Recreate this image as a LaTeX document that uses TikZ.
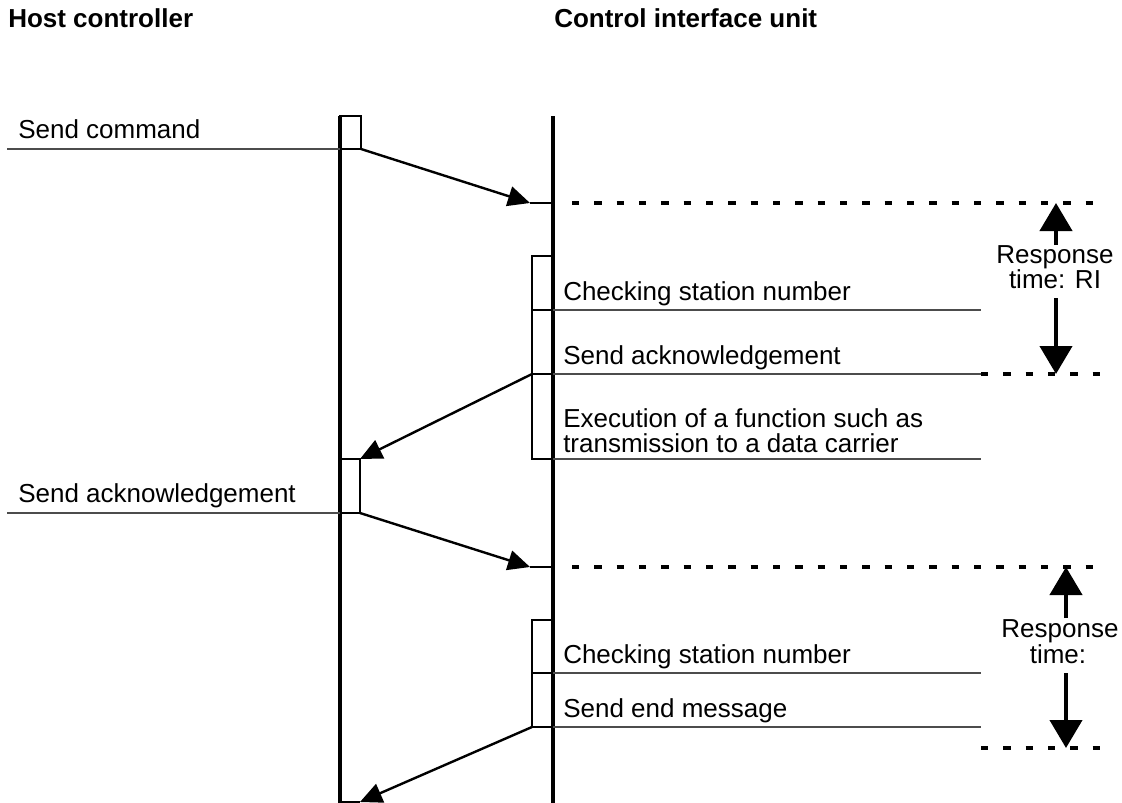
\documentclass[tikz,border=0pt]{standalone}
\usepackage{fontspec}
\setmainfont{Liberation Sans}
\usetikzlibrary{arrows.meta}
\begin{document}
\begin{tikzpicture}[x=0.75pt,y=-0.75pt,
  life/.style={line width=3pt},
  boxline/.style={line width=1.8pt},
  msg/.style={line width=1.8pt,-{Triangle[length=16.5pt,width=15pt]}},
  txtline/.style={line width=1pt,draw=black!70},
  dashline/.style={line width=2.7pt,dash pattern=on 5.5pt off 11.25pt},
  rtarrow/.style={line width=3.2pt,-{Triangle[length=21pt,width=24pt]}},
  lbl/.style={font=\fontsize{19.5}{18.75}\selectfont,inner sep=0pt,anchor=base west},
  ttl/.style={font=\fontsize{19.5}{18.75}\selectfont\bfseries,inner sep=0pt,anchor=base west},
  rtlbl/.style={font=\fontsize{19.5}{18.75}\selectfont,inner sep=0pt,anchor=base}]
\useasboundingbox (0,0) rectangle (1122,803);

% titles
\node[ttl] (thost) at (8,27) {Host controller};
\node[ttl] (tciu) at (554,27) {Control interface unit};

% lifelines
\coordinate (lhTop) at (340,116);
\coordinate (lhBot) at (340,803);
\coordinate (rhTop) at (553,116);
\coordinate (rhBot) at (553,803);
\draw[life] (lhTop) -- (lhBot);
\draw[life] (rhTop) -- (rhBot);

% activation boxes
\coordinate (bL1a) at (340,116); \coordinate (bL1b) at (361,149);
\draw[boxline] (bL1a) rectangle (bL1b);
\coordinate (bL2a) at (340,459); \coordinate (bL2b) at (360,513);
\draw[boxline] (bL2a) rectangle (bL2b);
\coordinate (bL3a) at (338,802); \coordinate (bL3b) at (360,802);
\draw[boxline] (bL3a) -- (bL3b);

\coordinate (bR1a) at (532,256); \coordinate (bR1b) at (553,459);
\draw[boxline] (bR1a) rectangle (bR1b);
\coordinate (dR1a) at (532,310); \coordinate (dR1b) at (553,310);
\coordinate (dR2a) at (532,374); \coordinate (dR2b) at (553,374);
\draw[boxline] (dR1a) -- (dR1b);
\draw[boxline] (dR2a) -- (dR2b);
\coordinate (bR2a) at (532,620); \coordinate (bR2b) at (553,727);
\draw[boxline] (bR2a) rectangle (bR2b);
\coordinate (dR3a) at (532,673); \coordinate (dR3b) at (553,673);
\draw[boxline] (dR3a) -- (dR3b);

% text lines
\coordinate (tl1a) at (7,149);   \coordinate (tl1b) at (340,149);
\coordinate (tl2a) at (7,513);   \coordinate (tl2b) at (340,513);
\coordinate (tl3a) at (553,310); \coordinate (tl3b) at (981,310);
\coordinate (tl4a) at (553,374); \coordinate (tl4b) at (981,374);
\coordinate (tl5a) at (553,459); \coordinate (tl5b) at (981,459);
\coordinate (tl6a) at (553,673); \coordinate (tl6b) at (981,673);
\coordinate (tl7a) at (553,727); \coordinate (tl7b) at (981,727);
\foreach \i in {1,...,7} {\draw[txtline] (tl\i a) -- (tl\i b);}

% dashed lines
\coordinate (dsh1a) at (572,203); \coordinate (dsh1b) at (1100,203);
\coordinate (dsh2a) at (981,374); \coordinate (dsh2b) at (1100,374);
\coordinate (dsh3a) at (572,567); \coordinate (dsh3b) at (1100,567);
\coordinate (dsh4a) at (981,748); \coordinate (dsh4b) at (1100,748);
\foreach \i in {1,...,4} {\draw[dashline] (dsh\i a) -- (dsh\i b);}

% messages
\coordinate (m1e) at (530,203); \coordinate (m1r) at (553,203);
\draw[msg] (bL1b) -- (m1e);
\draw[boxline] (m1e) -- (m1r);
\coordinate (m2e) at (360,459);
\draw[msg] (dR2a) -- (m2e);
\coordinate (m3e) at (530,567); \coordinate (m3r) at (553,567);
\draw[msg] (bL2b) -- (m3e);
\draw[boxline] (m3e) -- (m3r);
\coordinate (m4s) at (532,727);
\draw[msg] (m4s) -- (bL3b);

% labels
\node[lbl] (lsend) at (18,138) {Send command};
\node[lbl] (lchk1) at (563,300) {Checking station number};
\node[lbl] (lack1) at (563,364) {Send acknowledgement};
\node[lbl] (lexe1) at (563,427) {Execution of a function such as};
\node[lbl] (lexe2) at (563,452) {transmission to a data carrier};
\node[lbl] (lack2) at (18,502) {Send acknowledgement};
\node[lbl] (lchk2) at (563,663) {Checking station number};
\node[lbl] (lend) at (563,717) {Send end message};

% response times
\node[rtlbl] (rt1a) at (1055,263) {Response};
\node[rtlbl] (rt1b) at (1055,288) {time: RI};
\coordinate (r1up0) at (1056,245); \coordinate (r1up1) at (1056,203);
\coordinate (r1dn0) at (1056,298); \coordinate (r1dn1) at (1056,374);
\draw[rtarrow] (r1up0) -- (r1up1);
\draw[rtarrow] (r1dn0) -- (r1dn1);

\node[rtlbl] (rt2a) at (1060,637) {Response};
\node[rtlbl] (rt2b) at (1058,663) {time:};
\coordinate (r2up0) at (1066,618); \coordinate (r2up1) at (1066,567);
\coordinate (r2dn0) at (1066,673); \coordinate (r2dn1) at (1066,748);
\draw[rtarrow] (r2up0) -- (r2up1);
\draw[rtarrow] (r2dn0) -- (r2dn1);
\end{tikzpicture}
\end{document}
